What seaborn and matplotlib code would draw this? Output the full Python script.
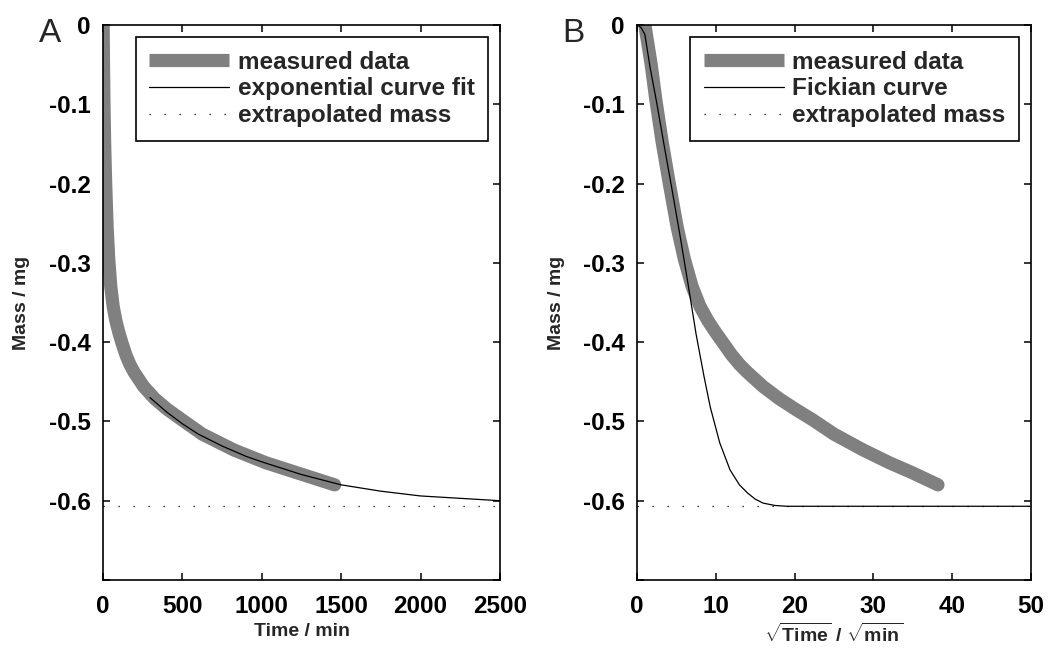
import numpy as np
import pandas as pd
import matplotlib
matplotlib.use("Agg")
import matplotlib.pyplot as plt
import seaborn as sns

# ---------------- data ----------------
time_min = [1, 1.96, 3.24, 5.76, 10.24, 16.81, 26.01, 36, 49, 64, 81, 100,
            121, 144, 169, 196, 256, 324, 400, 497, 625, 824, 1024, 1225, 1459]
mass_mg = [0.0, -0.025, -0.050, -0.095, -0.148, -0.200, -0.255, -0.295,
           -0.330, -0.355, -0.373, -0.388, -0.402, -0.416, -0.428, -0.438,
           -0.456, -0.471, -0.484, -0.498, -0.516, -0.536, -0.552, -0.565,
           -0.580]

fit_time = [296, 400, 500, 600, 750, 900, 1000, 1250, 1500, 1750, 2000, 2250, 2500]
fit_mass = [-0.470, -0.488, -0.503, -0.516, -0.531, -0.544, -0.551, -0.567,
            -0.580, -0.588, -0.594, -0.597, -0.600]

fick_sqrt_time = [0, 0.5, 1.0, 1.65, 2.5, 3.5, 4.4, 5.5, 6.5, 7.5, 8.5, 9.3,
                  10.5, 11.8, 13, 14, 15, 16, 17.5, 19, 25, 35, 50]
fick_mass = [0, -0.003, -0.012, -0.053, -0.098, -0.155, -0.205, -0.268,
             -0.328, -0.39, -0.443, -0.482, -0.527, -0.561, -0.580, -0.590,
             -0.598, -0.603, -0.606, -0.607, -0.607, -0.607, -0.607]

extrapolated_mass = -0.607

y_ticks = [0, -0.1, -0.2, -0.3, -0.4, -0.5, -0.6]
y_tick_labels = ["0", "-0.1", "-0.2", "-0.3", "-0.4", "-0.5", "-0.6"]
xticks_A = [0, 500, 1000, 1500, 2000, 2500]
xticks_B = [0, 10, 20, 30, 40, 50]

labels_A = ["measured data", "exponential curve fit", "extrapolated mass"]
labels_B = ["measured data", "Fickian curve", "extrapolated mass"]

# ---------------- style ----------------
sns.set_style("white")
plt.rcParams["font.family"] = ["Liberation Sans", "DejaVu Sans"]
plt.rcParams["mathtext.fontset"] = "custom"
plt.rcParams["mathtext.rm"] = "Liberation Sans"
plt.rcParams["mathtext.bf"] = "Liberation Sans:bold"

GRAY = "#808080"
BAND_LW = 9.5
THIN_LW = 0.9
DOT_STYLE = (0, (1, 11))
FS = 17.5

fig = plt.figure(figsize=(10.54, 6.49), dpi=100)
axA = fig.add_axes([103 / 1054, 1 - 580 / 649, 397 / 1054, 555 / 649])
axB = fig.add_axes([637 / 1054, 1 - 580 / 649, 394 / 1054, 555 / 649])

measured = pd.DataFrame({"t": time_min, "m": mass_mg})
measured["sqrt_t"] = np.sqrt(measured["t"])


def draw(ax, xcol, curve_x, curve_y, labels, xlim, xticks, xlabel):
    sns.lineplot(data=measured, x=xcol, y="m", ax=ax, color=GRAY,
                 lw=BAND_LW, sort=False, estimator=None, label=labels[0],
                 solid_capstyle="round", solid_joinstyle="round", zorder=2)
    sns.lineplot(x=curve_x, y=curve_y, ax=ax, color="black", lw=THIN_LW,
                 sort=False, estimator=None, label=labels[1], zorder=4)
    ax.axhline(extrapolated_mass, color="black", lw=0.9, ls=DOT_STYLE,
               label=labels[2], zorder=3)
    ax.set_xlim(*xlim)
    ax.set_ylim(-0.7, 0)
    ax.set_xticks(xticks)
    ax.set_xticklabels([str(v) for v in xticks])
    ax.set_yticks(y_ticks + [-0.7])
    ax.set_yticklabels(y_tick_labels + [""])
    for sp in ax.spines.values():
        sp.set_visible(True)
        sp.set_color("black")
        sp.set_linewidth(1.2)
    ax.tick_params(direction="in", length=5, width=1.1, top=True, right=True,
                   bottom=True, left=True, labelsize=FS, colors="black")
    ax.tick_params(axis="x", pad=11)
    ax.tick_params(axis="y", pad=9)
    for lab in ax.get_xticklabels() + ax.get_yticklabels():
        lab.set_fontweight("bold")
    ax.set_xlabel(xlabel, fontsize=14, fontweight="bold")
    ax.set_ylabel("Mass / mg", fontsize=14, fontweight="bold")
    ax.xaxis.set_label_coords(0.5, -0.0775)
    ax.yaxis.set_label_coords(-0.184, 0.5)
    leg = ax.legend(loc="upper right", fontsize=FS, frameon=True,
                    fancybox=False, framealpha=1, edgecolor="black",
                    handlelength=3.3, handletextpad=0.35, labelspacing=0.16,
                    borderpad=0.55, borderaxespad=0.5)
    leg.get_frame().set_linewidth(1.2)
    leg.get_lines()[0].set_solid_capstyle("butt")
    for t in leg.get_texts():
        t.set_fontweight("bold")


draw(axA, "t", fit_time, fit_mass, labels_A, (0, 2500), xticks_A, "Time / min")
draw(axB, "sqrt_t", fick_sqrt_time, fick_mass, labels_B, (0, 50), xticks_B,
     r"$\sqrt{\mathbf{Time}}$ / $\sqrt{\mathbf{min}}$")

fig.text(39 / 1054, 1 - 42 / 649, "A", fontsize=24, va="baseline", ha="left")
fig.text(562 / 1054, 1 - 42 / 649, "B", fontsize=24, va="baseline", ha="left")

fig.savefig("out.png", dpi=100, facecolor="white")
